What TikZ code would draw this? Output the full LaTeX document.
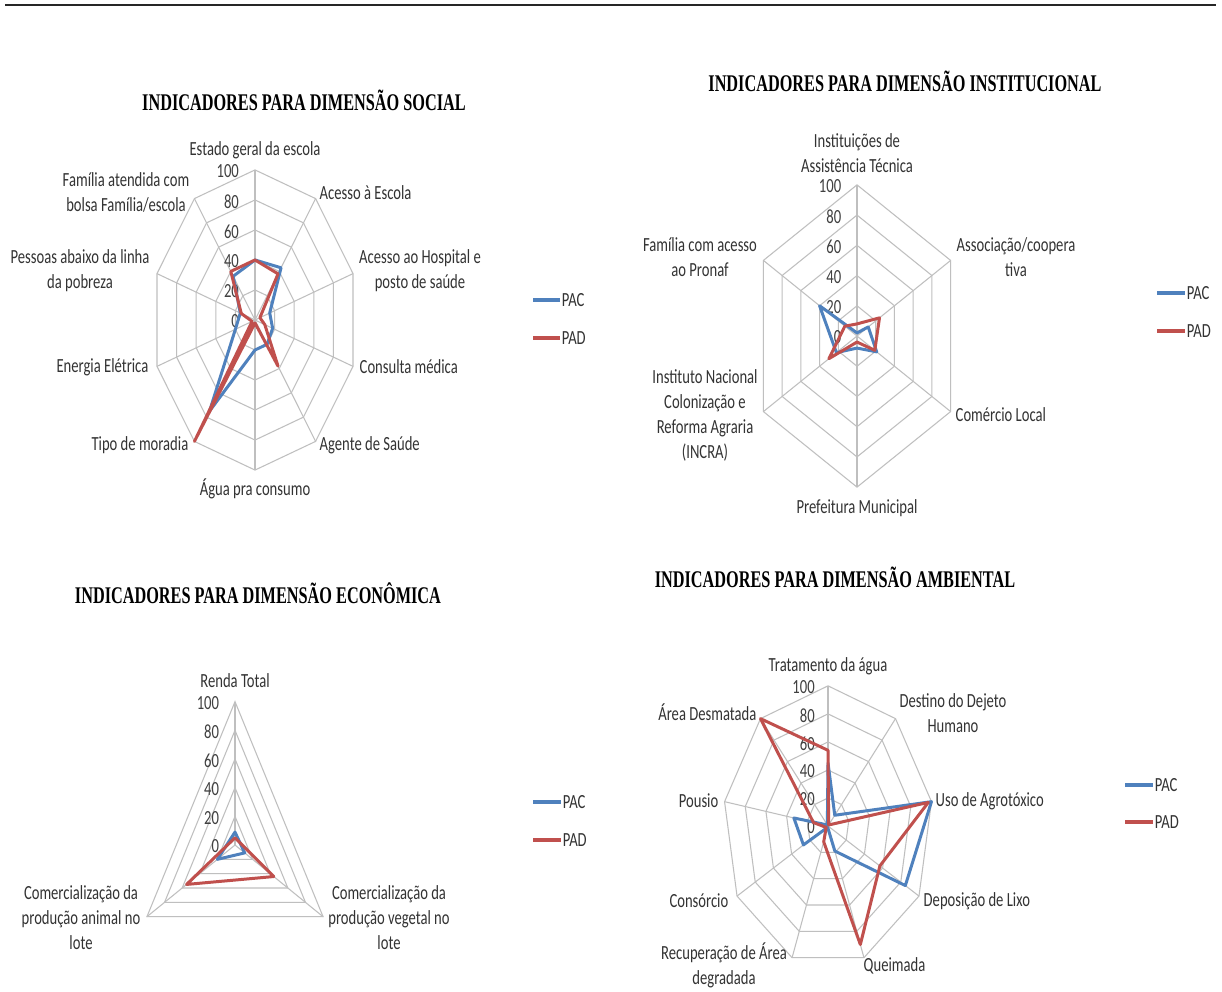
\documentclass[tikz,border=0pt]{standalone}
\usepackage{fontspec}
\newfontfamily\lblfont{Carlito}[FakeStretch=0.73]
\newfontfamily\ttlfont{Liberation Serif}[FakeStretch=0.68]
\definecolor{pacblue}{HTML}{4F81BD}
\definecolor{padred}{HTML}{C0504D}
\tikzset{
  ringline/.style={draw=black!25, line width=0.3pt},
  pac/.style={draw=pacblue, line width=0.85pt, line join=round},
  pad/.style={draw=padred, line width=0.85pt, line join=round},
  ticklbl/.style={font={\lblfont\fontsize{5.7}{6.5}\selectfont}, text=black!75, anchor=east, inner sep=0pt},
  axlbl/.style={font={\lblfont\fontsize{5.7}{7.1}\selectfont}, text=black!80, inner sep=0pt, align=center},
  ttl/.style={font={\ttlfont\bfseries\fontsize{6.8}{8}\selectfont}, inner sep=0pt},
  lgdtxt/.style={font={\lblfont\fontsize{5.7}{6.5}\selectfont}, text=black!80, inner sep=0pt, anchor=west}
}
\begin{document}
\begin{tikzpicture}[x=0.01cm, y=-0.01cm]
\fill[white] (0,0) rectangle (1222,992);
\useasboundingbox (0,0) rectangle (1222,992);
\draw[line width=0.6pt, black!85] (5,5) -- (1216,5);

% social
\node[ttl] (ttlsoc) at (304,100) {INDICADORES PARA DIMENSÃO SOCIAL};
\begin{scope}[shift={(255,320)}, x=0.0103cm, y=0.015cm]
  \foreach \r in {20,40,...,100}
    \draw[ringline] (90:\r) \foreach \k in {1,...,9}{ -- ({90-36*\k}:\r)} -- cycle;
  \foreach \k in {0,...,9} \draw[ringline] (0,0) -- ({90-36*\k}:100);
  \foreach \r in {0,20,...,100} \node[ticklbl] (soct\r) at (-15,\r-1) {\r};
  \draw[pac] (90:40) \foreach \v [count=\k] in {43,15,18,20,20,75,20,15,36}{ -- ({90-36*\k}:\v)} -- cycle;
  \draw[pad] (90:40) \foreach \v [count=\k] in {38,5,10,38,2,100,3,14,40}{ -- ({90-36*\k}:\v)} -- cycle;
\end{scope}
\node[axlbl] (soc0) at (255,150) {Estado geral da escola};
\node[axlbl, anchor=west] (soc1) at (319,193) {Acesso à Escola};
\node[axlbl] (soc2) at (420,271) {Acesso ao Hospital e\\posto de saúde};
\node[axlbl, anchor=west] (soc3) at (359,367) {Consulta médica};
\node[axlbl, anchor=west] (soc4) at (319,445) {Agente de Saúde};
\node[axlbl] (soc5) at (255,489) {Água pra consumo};
\node[axlbl, anchor=east] (soc6) at (189,445) {Tipo de moradia};
\node[axlbl, anchor=east] (soc7) at (149,367) {Energia Elétrica};
\node[axlbl] (soc8) at (80,271) {Pessoas abaixo da linha\\da pobreza};
\node[axlbl] (soc9) at (126,192) {Família atendida com\\bolsa Família/escola};
\draw[pac, line width=1pt] (533,300) -- (560,300) node[lgdtxt] (socpac) {PAC};
\draw[pad, line width=1pt] (533,338) -- (560,338) node[lgdtxt] (socpad) {PAD};

% institucional
\node[ttl] (ttlinst) at (905,81) {INDICADORES PARA DIMENSÃO INSTITUCIONAL};
\begin{scope}[shift={(857,336)}, x=0.0108cm, y=0.0151cm]
  \foreach \r in {20,40,...,100}
    \draw[ringline] (90:\r) \foreach \k in {1,...,5}{ -- ({90-60*\k}:\r)} -- cycle;
  \foreach \k in {0,...,5} \draw[ringline] (0,0) -- ({90-60*\k}:100);
  \foreach \r in {0,20,...,100} \node[ticklbl] (inst\r) at (-14,\r-1) {\r};
  \draw[pac] (90:2) \foreach \v [count=\k] in {12,21,8,22,40}{ -- ({90-60*\k}:\v)} -- cycle;
  \draw[pad] (90:8) \foreach \v [count=\k] in {24,19,4,30,13}{ -- ({90-60*\k}:\v)} -- cycle;
\end{scope}
\node[axlbl] (inst0) at (857,153) {Instituições de\\Assistência Técnica};
\node[axlbl] (inst1) at (1016,257) {Associação/coopera\\tiva};
\node[axlbl, anchor=west] (inst2) at (955,415) {Comércio Local};
\node[axlbl] (inst3) at (857,508) {Prefeitura Municipal};
\node[axlbl] (inst4) at (705,415) {Instituto Nacional\\Colonização e\\Reforma Agraria\\(INCRA)};
\node[axlbl] (inst5) at (700,257) {Família com acesso\\ao Pronaf};
\draw[pac, line width=1pt] (1157,293) -- (1185,293) node[lgdtxt] (instpac) {PAC};
\draw[pad, line width=1pt] (1157,331) -- (1185,331) node[lgdtxt] (instpad) {PAD};

% economica
\node[ttl] (ttleco) at (258,593) {INDICADORES PARA DIMENSÃO ECONÔMICA};
\begin{scope}[shift={(235,845)}, x=0.01016cm, y=0.01433cm]
  \foreach \r in {20,40,...,100}
    \draw[ringline] (90:\r) -- (-30:\r) -- (210:\r) -- cycle;
  \foreach \a in {90,-30,210} \draw[ringline] (0,0) -- (\a:100);
  \foreach \r in {0,20,...,100} \node[ticklbl] (ecot\r) at (-15,\r-1) {\r};
  \draw[pac] (90:9) -- (-30:11) -- (210:20) -- cycle;
  \draw[pad] (90:5) -- (-30:44) -- (210:55) -- cycle;
\end{scope}
\node[axlbl] (eco0) at (235,681) {Renda Total};
\node[axlbl] (eco1) at (389,918) {Comercialização da\\produção vegetal no\\lote};
\node[axlbl] (eco2) at (81,918) {Comercialização da\\produção animal no\\lote};
\draw[pac, line width=1pt] (533,802) -- (561,802) node[lgdtxt] (ecopac) {PAC};
\draw[pad, line width=1pt] (533,840) -- (561,840) node[lgdtxt] (ecopad) {PAD};

% ambiental
\node[ttl] (ttlamb) at (835,577) {INDICADORES PARA DIMENSÃO AMBIENTAL};
\begin{scope}[shift={(828,826)}, x=0.0105cm, y=0.014cm]
  \foreach \r in {20,40,...,100}
    \draw[ringline] (90:\r) \foreach \k in {1,...,8}{ -- ({90-40*\k}:\r)} -- cycle;
  \foreach \k in {0,...,8} \draw[ringline] (0,0) -- ({90-40*\k}:100);
  \foreach \r in {0,20,...,100} \node[ticklbl] (ambt\r) at (-12,\r-1) {\r};
  \draw[pac] (90:45) \foreach \v [count=\k] in {10,100,85,19,1,27,33,1}{ -- ({90-40*\k}:\v)} -- cycle;
  \draw[pad] (90:54) \foreach \v [count=\k] in {1,97,57,90,12,2,14,100}{ -- ({90-40*\k}:\v)} -- cycle;
\end{scope}
\node[axlbl] (amb0) at (828,666) {Tratamento da água};
\node[axlbl] (amb1) at (953,713) {Destino do Dejeto\\Humano};
\node[axlbl, anchor=west] (amb2) at (935,801) {Uso de Agrotóxico};
\node[axlbl, anchor=west] (amb3) at (923,901) {Deposição de Lixo};
\node[axlbl, anchor=west] (amb4) at (863,966) {Queimada};
\node[axlbl] (amb5) at (724,965) {Recuperação de Área\\degradada};
\node[axlbl, anchor=east] (amb6) at (729,901) {Consórcio};
\node[axlbl, anchor=east] (amb7) at (719,801) {Pousio};
\node[axlbl, anchor=east] (amb8) at (757,712) {Área Desmatada};
\draw[pac, line width=1pt] (1125,785) -- (1153,785) node[lgdtxt] (ambpac) {PAC};
\draw[pad, line width=1pt] (1125,822) -- (1153,822) node[lgdtxt] (ambpad) {PAD};
\end{tikzpicture}
\end{document}
